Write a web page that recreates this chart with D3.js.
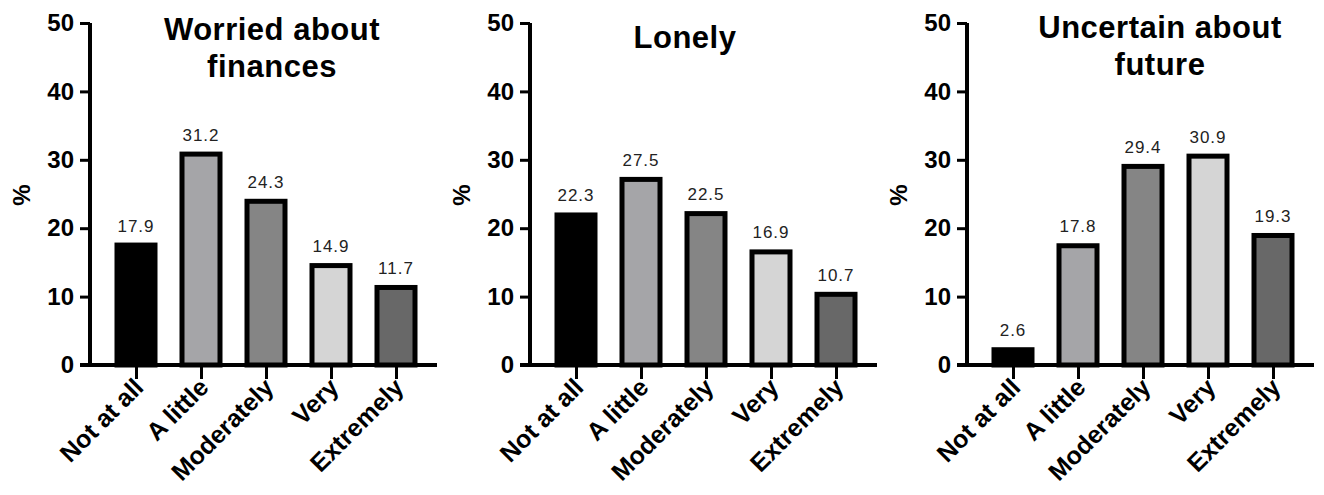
<!DOCTYPE html>
<html>
<head>
<meta charset="utf-8">
<script src="https://cdn.jsdelivr.net/npm/d3@7"></script>
<style>
  body { margin: 0; background: #fff; }
  text { font-family: "Liberation Sans", Arial, sans-serif; }
</style>
</head>
<body>
<svg></svg>
<script>
// data
const categories = ["Not at all", "A little", "Moderately", "Very", "Extremely"];
const titles = [["Worried about", "finances"], ["Lonely"], ["Uncertain about", "future"]];
const finances = [17.9, 31.2, 24.3, 14.9, 11.7];
const lonely = [22.3, 27.5, 22.5, 16.9, 10.7];
const future = [2.6, 17.8, 29.4, 30.9, 19.3];
const yTicks = [0, 10, 20, 30, 40, 50];
const fills = ["#000000", "#a5a5a8", "#858585", "#d5d5d5", "#686868"];

const panels = [
    {title: titles[0], values: finances, x0: 90, titleX: 272, titleY: 40},
    {title: titles[1], values: lonely, x0: 530, titleX: 685, titleY: 48},
    {title: titles[2], values: future, x0: 967, titleX: 1160, titleY: 38}
];

const W = 1324, H = 495;
const svg = d3.select('svg')
    .attr('width', W)
    .attr('height', H);

const scaleY = d3.scaleLinear()
    .domain([0, 50])
    .range([365, 23]);

const sw = 5; // bar outline

panels.forEach(p => {
    const g = svg.append('g');

    const scaleX = d3.scalePoint()
        .domain(categories)
        .range([p.x0 + 13.5, p.x0 + 338.5])
        .padding(0.5);

    // bars (outline kept inside the value)
    g.selectAll('.bar')
        .data(p.values)
        .enter()
        .append('rect')
            .attr('class', 'bar')
            .attr('x', (d, i) => scaleX(categories[i]) - 19)
            .attr('width', 38)
            .attr('y', d => scaleY(d) + sw / 2)
            .attr('height', d => scaleY(0) - scaleY(d) - sw / 2)
            .attr('fill', (d, i) => fills[i])
            .attr('stroke', '#000')
            .attr('stroke-width', sw);

    // value labels
    g.selectAll('.val')
        .data(p.values)
        .enter()
        .append('text')
            .attr('class', 'val')
            .attr('x', (d, i) => scaleX(categories[i]))
            .attr('y', d => scaleY(d) - 11)
            .attr('text-anchor', 'middle')
            .attr('font-size', 17)
            .attr('letter-spacing', 1)
            .attr('fill', '#222')
            .text(d => d.toFixed(1));

    // y axis
    const yAxis = g.append('g')
        .attr('transform', `translate(${p.x0}, 0)`)
        .call(d3.axisLeft(scaleY).tickValues(yTicks).tickSize(10).tickPadding(6));
    yAxis.select('.domain').attr('d', `M0,${scaleY(50)}V${scaleY(0)}`)
        .attr('stroke-width', 4);
    yAxis.selectAll('.tick line').attr('stroke-width', 3);
    yAxis.selectAll('.tick text')
        .attr('font-size', 24)
        .attr('font-weight', 'bold')
        .attr('fill', '#000');

    // x axis
    const xAxis = g.append('g')
        .attr('transform', `translate(0, ${scaleY(0)})`)
        .call(d3.axisBottom(scaleX).tickSize(14).tickFormat(''));
    xAxis.select('.domain').attr('d', `M${p.x0 - 10},0H${p.x0 + 347}`)
        .attr('stroke-width', 4);
    xAxis.selectAll('.tick line').attr('stroke-width', 3);

    // rotated category labels
    g.selectAll('.cat')
        .data(categories)
        .enter()
        .append('text')
            .attr('class', 'cat')
            .attr('transform', d => `translate(${scaleX(d) + 9}, ${scaleY(0) + 24}) rotate(-45)`)
            .attr('text-anchor', 'end')
            .attr('font-size', 25)
            .attr('font-weight', 'bold')
            .text(d => d);

    // % label
    g.append('text')
        .attr('transform', `translate(${p.x0 - 60}, 195) rotate(-90)`)
        .attr('text-anchor', 'middle')
        .attr('font-size', 24)
        .attr('font-weight', 'bold')
        .text('%');

    // title
    p.title.forEach((line, i) => {
        g.append('text')
            .attr('x', p.titleX)
            .attr('y', p.titleY + i * 37)
            .attr('text-anchor', 'middle')
            .attr('font-size', 31)
            .attr('font-weight', 'bold')
            .attr('letter-spacing', 0.5)
            .text(line);
    });
});
</script>
</body>
</html>
